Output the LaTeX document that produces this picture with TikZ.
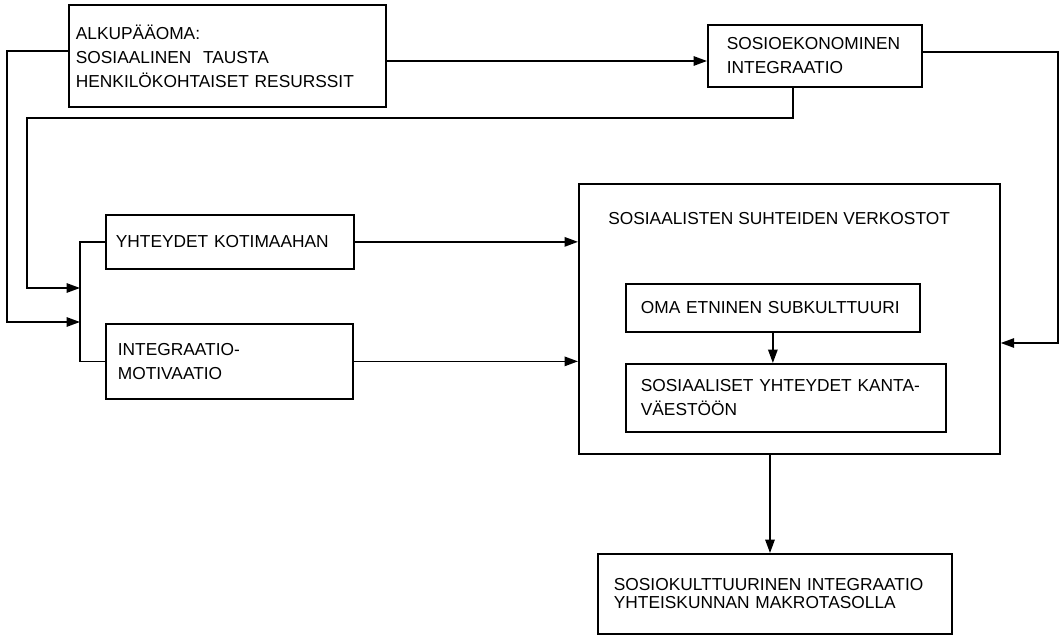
\documentclass[tikz,border=0pt]{standalone}
\usepackage{fontspec}
\setmainfont{Liberation Sans}
\usetikzlibrary{arrows.meta}

\begin{document}
\begin{tikzpicture}[x=0.75pt,y=0.75pt,yscale=-1,xscale=1,
    laatikko/.style={draw, line width=1.3pt, anchor=north west, align=left, inner ysep=0pt, font=\fontsize{13}{18}\selectfont},
    viiva/.style={line width=1.3pt},
    nuoli/.style={viiva, -{Triangle[length=10pt,width=7pt]}}]
    \useasboundingbox (0,0) rectangle (1061,635);

    %Shape: Rectangle [alkupaaoma]
    \node[laatikko, text width=227.25pt, inner xsep=5.25pt, minimum height=76.5pt] (alku) at (68,4) {ALKUPÄÄOMA:\\SOSIAALINEN\ \ TAUSTA\\HENKILÖKOHTAISET RESURSSIT};
    %Shape: Rectangle [sosioekonominen]
    \node[laatikko, text width=132pt, inner xsep=14.25pt, minimum height=46.5pt] (sosek) at (707,24) {SOSIOEKONOMINEN\\INTEGRAATIO};
    %Shape: Rectangle [kotimaa]
    \node[laatikko, text width=171pt, inner xsep=7.5pt, minimum height=40.5pt] (kotim) at (105,214) {YHTEYDET KOTIMAAHAN};
    %Shape: Rectangle [motivaatio]
    \node[laatikko, text width=167.25pt, inner xsep=9pt, minimum height=56.25pt] (motiv) at (105,323) {INTEGRAATIO-\\MOTIVAATIO};
    %Shape: Rectangle [verkostot]
    \node[laatikko, minimum width=315.75pt, minimum height=202.5pt, inner sep=0pt] (verkosto) at (578,183) {};
    % Text Node
    \node[font=\fontsize{13}{18}\selectfont, anchor=west, inner sep=0pt] (verkostoteksti) at (608,219) {SOSIAALISTEN SUHTEIDEN VERKOSTOT};
    %Shape: Rectangle [subkulttuuri]
    \node[laatikko, text width=198pt, inner xsep=11.25pt, minimum height=36pt] (oma) at (625,283) {OMA ETNINEN SUBKULTTUURI};
    %Shape: Rectangle [kantavaesto]
    \node[laatikko, text width=217.5pt, inner xsep=11.25pt, minimum height=51pt] (kanta) at (625,363) {SOSIAALISET YHTEYDET KANTA-\\VÄESTÖÖN};
    %Shape: Rectangle [makrotaso]
    \node[laatikko, text width=241.5pt, inner xsep=12pt, minimum height=60pt, font=\fontsize{13}{13.5}\selectfont] (makro) at (597,553) {SOSIOKULTTUURINEN INTEGRAATIO\\YHTEISKUNNAN MAKROTASOLLA};

    \coordinate (kokooja1) at (80,288);
    \coordinate (kokooja2) at (80,322);

    %Straight Lines
    \draw[nuoli] (alku.east |- 0,61) -- (sosek.west |- 0,61);
    \draw[nuoli] (alku.west |- 0,51) -| (7,322) -- (kokooja2);
    \draw[nuoli] (sosek.south -| 793,0) -- (793,118) -| (27,288) -- (kokooja1);
    \draw[viiva] (kotim.west) -| (kokooja1 |- motiv.west) -- (motiv.west);
    \draw[nuoli] (kotim.east) -- (kotim.east -| verkosto.west);
    \draw[nuoli] (motiv.east) -- (motiv.east -| verkosto.west);
    \draw[nuoli] (sosek.east |- 0,52) -| (1058,343) -- (verkosto.east |- 0,343);
    \draw[nuoli] (oma.south) -- (kanta.north -| oma.south);
    \draw[nuoli] (verkosto.south -| 770,0) -- (makro.north -| 770,0);

\end{tikzpicture}
\end{document}
